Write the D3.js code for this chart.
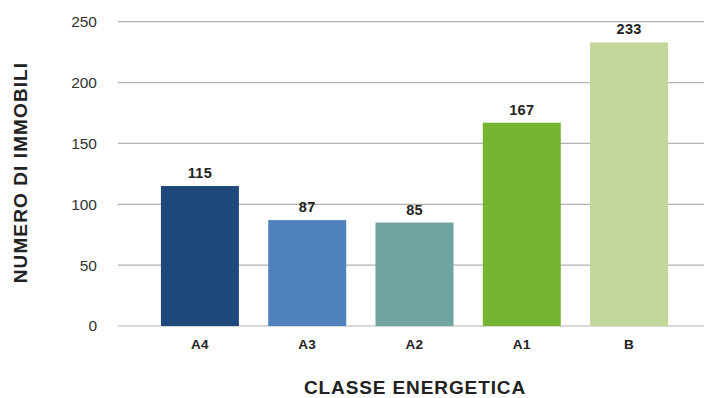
<!DOCTYPE html>
<html>
<head>
<meta charset="utf-8">
<script src="https://cdn.jsdelivr.net/npm/d3@7"></script>
<style>
  html, body { margin: 0; padding: 0; background: #fff; }
  svg { display: block; }
</style>
</head>
<body>
<svg id="chart" width="704" height="398"></svg>
<script>
// Number of properties by energy class
const categories = ["A4", "A3", "A2", "A1", "B"];
const values = [115, 87, 85, 167, 233];
const barColors = ["#1f497d", "#4f81bd", "#6fa59e", "#76b531", "#c4d79b"];
const yTicks = [0, 50, 100, 150, 200, 250];

const svg = d3.select("#chart");
const plotLeft = 118, plotRight = 704, plotTop = 21.7, plotBottom = 326;

const y = d3.scaleLinear().domain([0, 250]).range([plotBottom, plotTop]);
const x = d3.scaleBand()
  .domain(categories)
  .range([plotLeft, 711])
  .paddingInner(0.273)
  .paddingOuter(0.4);

const font = "'Liberation Sans', Arial, sans-serif";

// horizontal gridlines
svg.append("g").selectAll("line").data(yTicks).join("line")
  .attr("x1", plotLeft).attr("x2", plotRight)
  .attr("y1", d => y(d)).attr("y2", d => y(d))
  .attr("stroke", "#b3b3b3").attr("stroke-width", 1.2);

// y tick labels
svg.append("g").selectAll("text").data(yTicks).join("text")
  .attr("x", 97).attr("y", d => y(d))
  .attr("dy", "0.35em")
  .attr("text-anchor", "end")
  .attr("font-family", font)
  .attr("font-size", 15.5)
  .attr("fill", "#333")
  .text(d => d);

const data = categories.map((c, i) => ({ c, v: values[i], color: barColors[i] }));

// bars
svg.append("g").selectAll("rect").data(data).join("rect")
  .attr("x", d => x(d.c))
  .attr("width", x.bandwidth())
  .attr("y", d => y(d.v))
  .attr("height", d => y(0) - y(d.v))
  .attr("fill", d => d.color);

// value labels
svg.append("g").selectAll("text").data(data).join("text")
  .attr("x", d => x(d.c) + x.bandwidth() / 2)
  .attr("y", d => y(d.v) - 8)
  .attr("text-anchor", "middle")
  .attr("font-family", font)
  .attr("font-weight", 700)
  .attr("font-size", 14.5)
  .attr("letter-spacing", 0.3)
  .attr("fill", "#222")
  .text(d => d.v);

// category labels
svg.append("g").selectAll("text").data(categories).join("text")
  .attr("x", d => x(d) + x.bandwidth() / 2)
  .attr("y", 348.5)
  .attr("text-anchor", "middle")
  .attr("font-family", font)
  .attr("font-weight", 700)
  .attr("font-size", 13.5)
  .attr("letter-spacing", 0.3)
  .attr("fill", "#222")
  .text(d => d);

// axis titles
svg.append("text")
  .attr("x", 415).attr("y", 394)
  .attr("text-anchor", "middle")
  .attr("font-family", font)
  .attr("font-weight", 700)
  .attr("font-size", 19)
  .attr("letter-spacing", 0.9)
  .attr("fill", "#222")
  .text("CLASSE ENERGETICA");

svg.append("text")
  .attr("transform", "translate(27,172.5) rotate(-90)")
  .attr("text-anchor", "middle")
  .attr("font-family", font)
  .attr("font-weight", 700)
  .attr("font-size", 19)
  .attr("letter-spacing", 1.1)
  .attr("fill", "#222")
  .text("NUMERO DI IMMOBILI");
</script>
</body>
</html>
